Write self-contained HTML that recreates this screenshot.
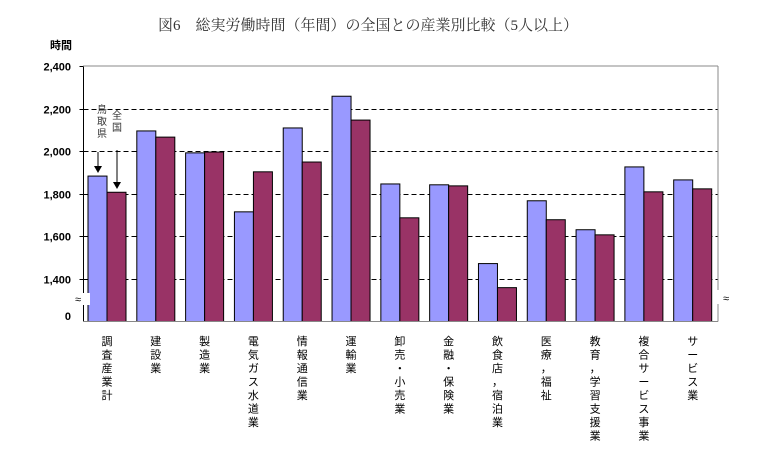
<!DOCTYPE html>
<html><head><meta charset="utf-8"><style>
body{margin:0;background:#fff}
svg{display:block;font-family:"Liberation Sans","Noto Sans CJK JP",sans-serif}
</style></head><body>
<svg width="783" height="464" viewBox="0 0 783 464">
<text x="368" y="30" text-anchor="middle" font-size="15" fill="#333" font-family="'Liberation Serif','Noto Serif CJK SC',serif">図6　総実労働時間（年間）の全国との産業別比較（5人以上）</text>
<text x="50" y="49" font-size="11" font-weight="bold">時間</text>
<g id="grid"></g>
<g id="bars"></g>
<g id="labels"></g>
<line x1="83.5" y1="66" x2="83.5" y2="321.5" stroke="#000"/>
<line x1="83" y1="321.5" x2="718" y2="321.5" stroke="#888"/>
<line x1="718" y1="66" x2="718" y2="321.5" stroke="#888"/>
<line x1="83" y1="66" x2="718" y2="66" stroke="#888"/>
<rect x="66" y="293" width="24" height="12" fill="#fff"/>
<text x="78" y="303" text-anchor="middle" font-size="11">≈</text>
<text x="71" y="320" text-anchor="end" font-size="11" font-weight="bold">0</text>
<rect x="714" y="290" width="8" height="14" fill="#fff"/>
<text x="726" y="302" text-anchor="middle" font-size="11">≈</text>
<g font-size="10" fill="#333">
<text x="97" y="113">鳥</text><text x="97" y="125">取</text><text x="97" y="137">県</text>
</g>
<g font-size="10" fill="#333">
<text x="112" y="119">全</text><text x="112" y="131">国</text>
</g>
<line x1="98" y1="152" x2="98" y2="168" stroke="#000"/>
<polygon points="94,166 102,166 98,173" fill="#000"/>
<line x1="117" y1="150" x2="117" y2="183" stroke="#000"/>
<polygon points="113,182 121,182 117,189" fill="#000"/>
</svg>
<script>
const categories=["調査産業計","建設業","製造業","電気ガス水道業","情報通信業","運輸業","卸売・小売業","金融・保険業","飲食店，宿泊業","医療，福祉","教育，学習支援業","複合サービス事業","サービス業"];
const tottori=[1883,2095,1992,1715,2109,2258,1846,1842,1472,1767,1631,1926,1865];
const national=[1807,2066,1996,1903,1949,2146,1687,1837,1359,1678,1607,1809,1823];
const ticks=[1400,1600,1800,2000,2200,2400];
const tickLabels=["1,400","1,600","1,800","2,000","2,200","2,400"];
const NS="http://www.w3.org/2000/svg";
const x0=83.5,x1=718,yBase=321.5;
const yScale=v=>yBase-(v-1200)*(255.5/1200);
const gw=(x1-x0)/categories.length;
const grid=document.getElementById('grid'),bars=document.getElementById('bars'),labels=document.getElementById('labels');
function mk(t,a){const e=document.createElementNS(NS,t);for(const k in a)e.setAttribute(k,a[k]);return e;}
ticks.forEach((t,i)=>{
 const y=Math.round(yScale(t))+0.5;
 if(t<2400){const l=mk('line',{x1:x0,x2:x1,y1:y,y2:y,stroke:'#000','stroke-dasharray':'5,3'});
 
 grid.appendChild(l);}
 const tk=mk('line',{x1:x0-4,x2:x0,y1:y,y2:y,stroke:'#000'});
 
 grid.appendChild(tk);
 const tx=mk('text',{x:71,y:y+4,'text-anchor':'end','font-size':11,'font-weight':'bold'});
 tx.textContent=tickLabels[i];
 
 grid.appendChild(tx);
});
categories.forEach((c,i)=>{
 const gx=x0+i*gw;
 const bw=19;
 [[tottori[i],'#9999ff',gx+4.5,'bar-tottori'],[national[i],'#993366',gx+4.5+bw,'bar-national']].forEach(([v,col,bx,nm])=>{
  const y=yScale(v);
  const r=mk('rect',{x:bx,y:y,width:bw,height:yBase-y,fill:col,stroke:'#000','stroke-width':1});
  
  bars.appendChild(r);
 });
 const cx=gx+4.5+bw;
 const g=mk('g',{'font-size':11,fill:'#000'});
 
 
 [...c].forEach((ch,j)=>{
  const isP=(ch==='，'||ch==='・');
  const t=mk('text',{x:cx,y:345+j*13.5,'text-anchor':'middle'});
  t.textContent=ch;g.appendChild(t);
 });
 labels.appendChild(g);
});
</script>
</body></html>
